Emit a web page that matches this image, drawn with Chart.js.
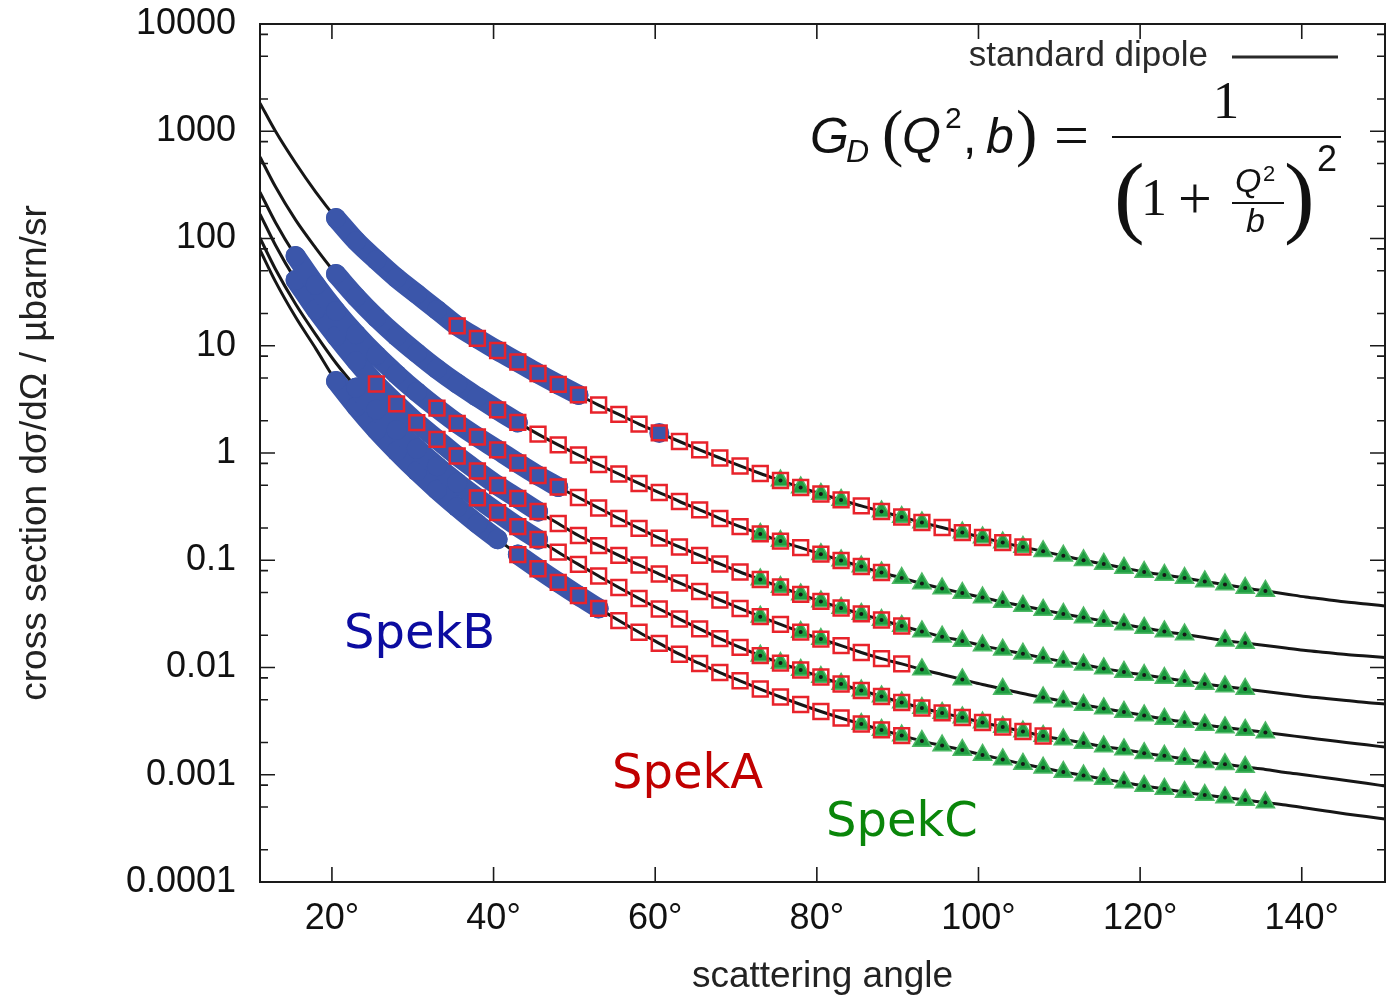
<!DOCTYPE html>
<html>
<head>
<meta charset="utf-8">
<title>Elastic cross sections, standard dipole</title>
<script src="https://cdn.jsdelivr.net/npm/chart.js@4.4.1/dist/chart.umd.min.js"></script>
<style>
  html, body { margin: 0; padding: 0; background: #fff; }
  #wrap { width: 1400px; height: 999px; position: relative; }
</style>
</head>
<body>
<div id="wrap"><canvas id="xs"></canvas></div>
<script>
const ANGLES = [11.1, 13, 15.5, 18, 20.5, 23, 25.5, 28, 30.5, 33,
  35.5, 38, 40.5, 43, 45.5, 48, 50.5, 53, 55.5, 58,
  60.5, 63, 65.5, 68, 70.5, 73, 75.5, 78, 80.5, 83,
  85.5, 88, 90.5, 93, 95.5, 98, 100.5, 103, 105.5, 108,
  110.5, 113, 115.5, 118, 120.5, 123, 125.5, 128, 130.5, 133,
  135.5, 138, 140.5, 143, 145.5, 148, 150.3];

// cross sections in µbarn/sr, one curve per beam energy (top to bottom)
const CURVE_1 = [1830, 1005, 506, 271, 155, 94.8, 63.0, 42.8, 30.4, 21.6,
  15.3, 11.7, 9.03, 7.06, 5.51, 4.36, 3.48, 2.80, 2.29, 1.86,
  1.54, 1.28, 1.07, 0.898, 0.757, 0.644, 0.554, 0.477, 0.415, 0.365,
  0.321, 0.285, 0.253, 0.225, 0.202, 0.181, 0.163, 0.146, 0.133, 0.121,
  0.110, 0.100, 0.0923, 0.0847, 0.0777, 0.0729, 0.0683, 0.0634, 0.0594, 0.0551,
  0.0517, 0.0485, 0.0454, 0.0431, 0.0408, 0.0391, 0.0375];
const CURVE_2 = [575, 305, 149, 81.5, 46.7, 28.5, 18.3, 12.3, 8.56, 6.07,
  4.44, 3.33, 2.52, 1.93, 1.50, 1.19, 0.958, 0.781, 0.637, 0.520,
  0.428, 0.353, 0.295, 0.245, 0.206, 0.176, 0.151, 0.131, 0.114, 0.0995,
  0.0874, 0.0769, 0.0683, 0.0607, 0.0545, 0.0495, 0.0449, 0.0408, 0.0375, 0.0344,
  0.0316, 0.0292, 0.0271, 0.0252, 0.0234, 0.0217, 0.0203, 0.0190, 0.0178, 0.0169,
  0.0160, 0.0152, 0.0144, 0.0138, 0.0132, 0.0128, 0.0124];
const CURVE_3 = [271, 142, 68.7, 36.9, 21.1, 12.8, 8.16, 5.42, 3.71, 2.62,
  1.89, 1.41, 1.07, 0.807, 0.617, 0.482, 0.385, 0.307, 0.245, 0.198,
  0.161, 0.133, 0.111, 0.0923, 0.0777, 0.0662, 0.0563, 0.0480, 0.0413, 0.0359,
  0.0316, 0.0277, 0.0244, 0.0217, 0.0194, 0.0177, 0.0160, 0.0146, 0.0134, 0.0123,
  0.0113, 0.0106, 0.00979, 0.00908, 0.00851, 0.00798, 0.00748, 0.00702, 0.00665, 0.00630,
  0.00597, 0.00566, 0.00537, 0.00514, 0.00493, 0.00472, 0.00457];
const CURVE_4 = [169, 87.0, 41.0, 21.8, 12.3, 7.21, 4.40, 2.87, 1.92, 1.34,
  0.938, 0.679, 0.498, 0.377, 0.285, 0.220, 0.170, 0.137, 0.111, 0.0903,
  0.0744, 0.0614, 0.0511, 0.0426, 0.0355, 0.0298, 0.0252, 0.0214, 0.0184, 0.0160,
  0.0138, 0.0121, 0.0108, 0.00958, 0.00860, 0.00773, 0.00694, 0.00630, 0.00572, 0.00525,
  0.00482, 0.00447, 0.00415, 0.00385, 0.00357, 0.00331, 0.00310, 0.00291, 0.00276, 0.00262,
  0.00248, 0.00235, 0.00222, 0.00211, 0.00200, 0.00190, 0.00181];
const CURVE_5 = [101, 52.0, 24.5, 12.7, 6.90, 4.08, 2.54, 1.64, 1.10, 0.753,
  0.530, 0.381, 0.278, 0.206, 0.156, 0.119, 0.0915, 0.0713, 0.0557, 0.0440,
  0.0351, 0.0283, 0.0229, 0.0186, 0.0154, 0.0129, 0.0110, 0.00948, 0.00815, 0.00702,
  0.00610, 0.00537, 0.00472, 0.00419, 0.00377, 0.00342, 0.00307, 0.00279, 0.00253, 0.00230,
  0.00213, 0.00198, 0.00183, 0.00172, 0.00159, 0.00150, 0.00140, 0.00131, 0.00125, 0.00118,
  0.00112, 0.00105, 0.000995, 0.000937, 0.000884, 0.000832, 0.000785];
const CURVE_6 = [78.1, 39.8, 18.5, 9.41, 4.69, 2.71, 1.64, 1.04, 0.678, 0.455,
  0.313, 0.219, 0.157, 0.113, 0.0834, 0.0622, 0.0468, 0.0356, 0.0274, 0.0213,
  0.0168, 0.0133, 0.0109, 0.00898, 0.00752, 0.00630, 0.00531, 0.00452, 0.00389, 0.00338,
  0.00297, 0.00262, 0.00232, 0.00206, 0.00187, 0.00170, 0.00153, 0.00139, 0.00126, 0.00116,
  0.00106, 0.000984, 0.000913, 0.000847, 0.000785, 0.000737, 0.000690, 0.000647, 0.000614, 0.000581,
  0.000551, 0.000522, 0.000490, 0.000459, 0.000431, 0.000408, 0.000387];
const CURVES = [CURVE_1, CURVE_2, CURVE_3, CURVE_4, CURVE_5, CURVE_6];

// angular coverage of each spectrometer, per curve
const SPEKB_RANGES = [[[20.5, 50.5], [60.5, 60.5]], [[20.5, 43]], [[15.5, 48]],
  [[15.5, 45.5]], [[23, 45.5]], [[20.5, 40.5], [43, 53]]];
const SPEKA_FROM = [35.5, 40.5, 33, 25.5, 38, 43];
const SPEKA_TO = [105.5, 88, 90.5, 90.5, 108, 90.5];
const SPEKC_FROM = [75.5, 73, 73, 73, 73, 85.5];
const SPEKC_TO = [135.5, 133, 133, 135.5, 133, 135.5];
const SPEKC_MISSING = [[85.5, 95.5], [78, 128], [], [75.5, 83, 85.5, 88, 90.5, 95.5, 100.5, 105.5], [], []];

// axes
const X_TICKS = [20, 40, 60, 80, 100, 120, 140];
const Y_TICKS = [10000, 1000, 100, 10, 1, 0.1, 0.01, 0.001, 0.0001];
const Y_TICK_LABELS = ['10000', '1000', '100', '10', '1', '0.1', '0.01', '0.001', '0.0001'];
const Y_MINOR = [2, 5, 8];

const BLUE = '#3b56aa';
const RED = '#e8232b';
const GREEN = '#1f9d41';
const GREEN_EDGE = '#4db865';
const INK = '#161616';

function pointsFor(values, from, to, missing = []) {
  return ANGLES.map((a, i) => ({ x: a, y: values[i] }))
    .filter(p => p.x >= from - 0.01 && p.x <= to + 0.01 && !missing.includes(p.x));
}

const datasets = [];
CURVES.forEach((vals, c) => {
  datasets.push({
    label: 'standard dipole',
    data: pointsFor(vals, 0, 180),
    borderColor: INK, borderWidth: 3,
    pointRadius: 0, cubicInterpolationMode: 'monotone', order: 4
  });
  SPEKB_RANGES[c].forEach(([from, to]) => datasets.push({
    label: 'SpekB',
    data: pointsFor(vals, from, to),
    borderColor: BLUE, borderWidth: 20, borderCapStyle: 'round', borderJoinStyle: 'round',
    pointRadius: 10, pointBackgroundColor: BLUE, pointBorderWidth: 0,
    cubicInterpolationMode: 'monotone', order: 2
  }));
  const spekC = pointsFor(vals, SPEKC_FROM[c], SPEKC_TO[c], SPEKC_MISSING[c]);
  datasets.push({
    label: 'SpekC', data: spekC, showLine: false,
    pointStyle: 'triangle', pointRadius: 10.5,
    pointBackgroundColor: GREEN, pointBorderColor: GREEN_EDGE, pointBorderWidth: 1.5, order: 3
  });
  // small black data dots in the triangles
  datasets.push({
    label: 'SpekC points', data: spekC, showLine: false,
    pointRadius: 2, pointBackgroundColor: INK, pointBorderWidth: 0, order: 1
  });
  datasets.push({
    label: 'SpekA', data: pointsFor(vals, SPEKA_FROM[c], SPEKA_TO[c]), showLine: false,
    pointStyle: 'rect', pointRadius: 10.5,
    pointBackgroundColor: 'rgba(0,0,0,0)', pointBorderColor: RED, pointBorderWidth: 2.5, order: 0
  });
});

// ── frame, inward ticks, legend, formula, labels ──────────────────────────────
const decorations = {
  id: 'decorations',
  afterDatasetsDraw(chart) {
    const { ctx, chartArea: a, scales: { x, y } } = chart;
    ctx.save();
    ctx.strokeStyle = '#1a1a1a';
    ctx.lineWidth = 1.6;
    ctx.beginPath();
    X_TICKS.forEach(v => {
      const px = x.getPixelForValue(v);
      ctx.moveTo(px, a.bottom); ctx.lineTo(px, a.bottom - 15);
      ctx.moveTo(px, a.top); ctx.lineTo(px, a.top + 15);
    });
    Y_TICKS.forEach(v => {
      const py = y.getPixelForValue(v);
      ctx.moveTo(a.left, py); ctx.lineTo(a.left + 15, py);
      ctx.moveTo(a.right, py); ctx.lineTo(a.right - 15, py);
      if (v >= 10000) return;
      Y_MINOR.forEach(m => {
        const pm = y.getPixelForValue(v * m);
        ctx.moveTo(a.left, pm); ctx.lineTo(a.left + 8, pm);
        ctx.moveTo(a.right, pm); ctx.lineTo(a.right - 8, pm);
      });
    });
    ctx.stroke();
    ctx.lineWidth = 2;
    ctx.strokeRect(a.left, a.top, a.right - a.left, a.bottom - a.top);
    ctx.restore();
  },
  afterDraw(chart) {
    const { ctx } = chart;
    ctx.save();
    ctx.textBaseline = 'alphabetic';

    // legend entry
    ctx.fillStyle = '#2a2a2a';
    ctx.font = '35px "Liberation Sans", Arial, sans-serif';
    ctx.textAlign = 'right';
    ctx.fillText('standard dipole', 1208, 66);
    ctx.strokeStyle = '#2a2a2a';
    ctx.lineWidth = 3;
    ctx.beginPath(); ctx.moveTo(1232, 57); ctx.lineTo(1338, 57); ctx.stroke();

    // G_D(Q², b) = 1 / (1 + Q²/b)²
    ctx.fillStyle = '#111';
    ctx.textAlign = 'left';
    ctx.font = 'italic 50px "Liberation Sans", sans-serif';
    ctx.fillText('G', 810, 153);
    ctx.font = 'italic 32px "Liberation Sans", sans-serif';
    ctx.fillText('D', 846, 162);
    ctx.font = '64px "Liberation Serif", serif';
    ctx.fillText('(', 882, 154);
    ctx.font = 'italic 50px "Liberation Sans", sans-serif';
    ctx.fillText('Q', 902, 153);
    ctx.font = '30px "Liberation Sans", sans-serif';
    ctx.fillText('2', 945, 128);
    ctx.font = '48px "Liberation Sans", sans-serif';
    ctx.fillText(',', 963, 153);
    ctx.font = 'italic 50px "Liberation Sans", sans-serif';
    ctx.fillText('b', 986, 153);
    ctx.font = '64px "Liberation Serif", serif';
    ctx.fillText(')', 1016, 154);
    ctx.font = '62px "Liberation Serif", serif';
    ctx.fillText('=', 1054, 156);
    ctx.lineWidth = 2.2;
    ctx.strokeStyle = '#111';
    ctx.beginPath(); ctx.moveTo(1112, 137); ctx.lineTo(1341, 137); ctx.stroke();
    ctx.font = '53px "Liberation Serif", serif';
    ctx.textAlign = 'center';
    ctx.fillText('1', 1226, 118);
    ctx.textAlign = 'left';
    ctx.font = '92px "Liberation Serif", serif';
    ctx.fillText('(', 1114, 226);
    ctx.font = '52px "Liberation Serif", serif';
    ctx.fillText('1', 1141, 215);
    ctx.font = '60px "Liberation Serif", serif';
    ctx.fillText('+', 1178, 218);
    ctx.font = 'italic 34px "Liberation Sans", sans-serif';
    ctx.fillText('Q', 1235, 192);
    ctx.font = '22px "Liberation Sans", sans-serif';
    ctx.fillText('2', 1263, 181);
    ctx.lineWidth = 2;
    ctx.beginPath(); ctx.moveTo(1232, 203); ctx.lineTo(1284, 203); ctx.stroke();
    ctx.font = 'italic 34px "Liberation Sans", sans-serif';
    ctx.fillText('b', 1246, 232);
    ctx.font = '92px "Liberation Serif", serif';
    ctx.fillText(')', 1284, 226);
    ctx.font = '36px "Liberation Sans", sans-serif';
    ctx.fillText('2', 1317, 171);

    // spectrometer labels
    ctx.font = '48px "DejaVu Sans", sans-serif';
    ctx.fillStyle = '#0c0ca0';
    ctx.fillText('SpekB', 344, 648);
    ctx.fillStyle = '#c00000';
    ctx.fillText('SpekA', 612, 788);
    ctx.fillStyle = '#0a860a';
    ctx.fillText('SpekC', 826, 836);
    ctx.restore();
  }
};

new Chart(document.getElementById('xs'), {
  type: 'line',
  data: { datasets },
  plugins: [decorations],
  options: {
    responsive: true,
    maintainAspectRatio: false,
    animation: false,
    events: [],
    parsing: false,
    layout: { padding: { top: 24, right: 15, left: 0, bottom: 0 } },
    plugins: { legend: { display: false }, tooltip: { enabled: false } },
    scales: {
      x: {
        type: 'linear', min: 11.1, max: 150.3,
        afterBuildTicks: s => { s.ticks = X_TICKS.map(v => ({ value: v })); },
        afterFit: s => { s.height = 117; s.paddingLeft = 0; s.paddingRight = 0; },
        grid: { display: false, drawTicks: false },
        border: { display: false },
        ticks: {
          autoSkip: false, maxRotation: 0, padding: 15, color: '#111',
          font: { family: '"Liberation Sans", Arial, sans-serif', size: 36 },
          callback: v => v + '°'
        },
        title: {
          display: true, text: 'scattering angle', color: '#222',
          font: { family: '"Liberation Sans", Arial, sans-serif', size: 37 },
          padding: { top: 0, bottom: 0 }
        }
      },
      y: {
        type: 'logarithmic', min: 0.0001, max: 10000,
        afterBuildTicks: s => { s.ticks = Y_TICKS.map(v => ({ value: v })); },
        afterFit: s => { s.width = 260; s.paddingTop = 0; s.paddingBottom = 0; },
        grid: { display: false, drawTicks: false },
        border: { display: false },
        ticks: {
          autoSkip: false, padding: 24, color: '#111',
          font: { family: '"Liberation Sans", Arial, sans-serif', size: 36 },
          callback: (v, i) => Y_TICK_LABELS[Y_TICKS.indexOf(v)] ?? ''
        },
        title: {
          display: true, text: 'cross section dσ/dΩ / µbarn/sr', color: '#222',
          font: { family: '"Liberation Sans", Arial, sans-serif', size: 37 },
          padding: { top: 14, bottom: 0 }
        }
      }
    }
  }
});
</script>
</body>
</html>
